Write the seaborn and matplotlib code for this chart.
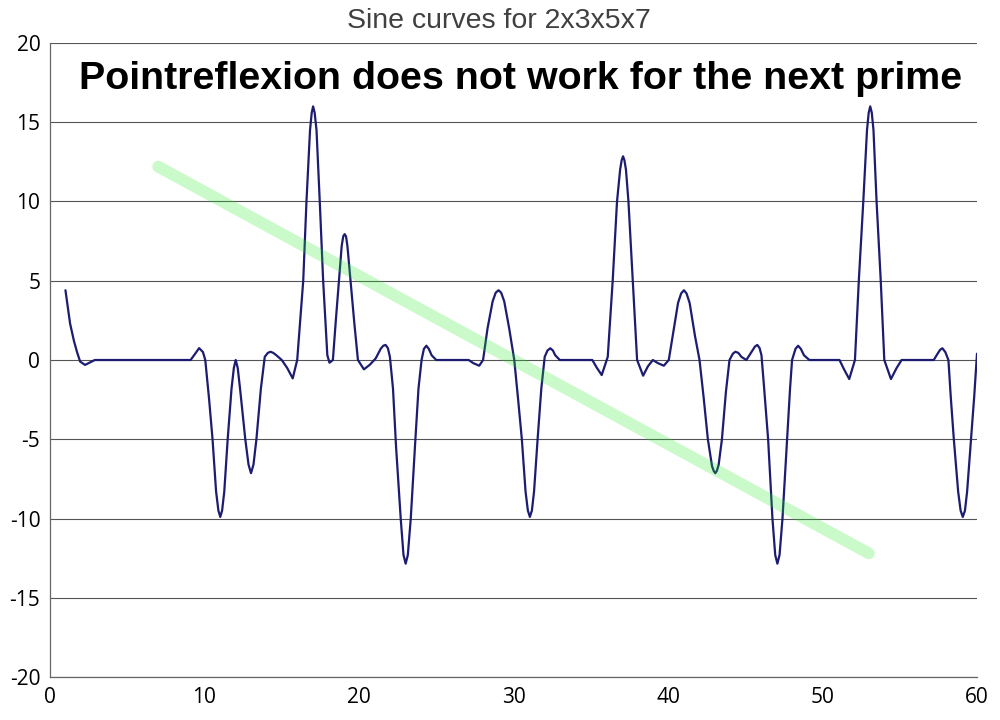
import matplotlib
matplotlib.use("Agg")
import matplotlib.pyplot as plt
import seaborn as sns
import pandas as pd

# curve (x, y)
curve_x = [
    1.0, 1.3, 1.55, 1.75, 1.95, 2.27, 2.6, 2.9,
    9.1, 9.4, 9.65, 9.9, 10.05, 10.3, 10.52, 10.75, 10.9, 11.02, 11.14, 11.28,
    11.5, 11.75, 11.9, 12.02, 12.15, 12.3, 12.64, 12.85, 13.01, 13.17, 13.36,
    13.65, 13.9, 14.1, 14.27, 14.45, 14.65,
    15.0, 15.35, 15.71, 16.0, 16.39, 16.6, 16.83, 16.94, 17.03, 17.13, 17.25,
    17.46, 17.68, 17.95, 18.09, 18.31, 18.5, 18.7, 18.88, 18.98, 19.07, 19.16,
    19.25, 19.45, 19.7, 19.93, 20.32, 20.7, 21.08, 21.4, 21.57, 21.72, 21.87,
    22.0, 22.2, 22.4, 22.7, 22.88, 23.02, 23.16, 23.35, 23.65, 23.85, 24.05,
    24.2, 24.36, 24.52, 24.7, 25.0,
    27.1, 27.4, 27.78, 28.03, 28.32, 28.65, 28.85, 29.03, 29.2, 29.4, 29.72,
    30.05, 30.3, 30.54, 30.78, 30.93, 31.06, 31.19, 31.33, 31.56, 31.8, 32.02,
    32.2, 32.38, 32.55, 32.7, 33.0,
    35.1, 35.4, 35.71, 36.1, 36.42, 36.7, 36.9, 37.0, 37.09, 37.18, 37.28,
    37.44, 37.72, 38.0, 38.39, 38.7, 39.02, 39.35, 39.73, 40.05, 40.35, 40.65,
    40.85, 41.03, 41.2, 41.4, 41.75, 42.04, 42.3, 42.58, 42.85, 42.96, 43.06,
    43.16, 43.28, 43.49, 43.75, 43.98, 44.2, 44.36, 44.55, 44.75, 45.07, 45.4,
    45.63, 45.78, 45.93, 46.05, 46.2, 46.48, 46.76, 46.94, 47.08, 47.22, 47.41,
    47.71, 47.9, 48.03, 48.25, 48.42, 48.6, 48.8, 49.15,
    51.1, 51.4, 51.73, 52.1, 52.35, 52.64, 52.88, 52.99, 53.09, 53.19, 53.3,
    53.5, 53.77, 54.0, 54.43, 54.8, 55.12,
    57.2, 57.45, 57.62, 57.76, 57.95, 58.15, 58.3, 58.5, 58.78, 58.94, 59.08,
    59.22, 59.36, 59.61, 59.82, 60.0,
]
curve_y = [
    4.4, 2.3, 1.2, 0.5, -0.1, -0.31, -0.15, 0.0,
    0.0, 0.4, 0.75, 0.5, 0.0, -2.5, -5.0, -8.3, -9.5, -9.9, -9.5, -8.3,
    -5.0, -1.8, -0.5, 0.0, -0.5, -1.8, -5.0, -6.6, -7.14, -6.6, -5.0,
    -1.8, 0.2, 0.45, 0.52, 0.45, 0.3,
    0.0, -0.5, -1.16, 0.0, 5.0, 10.0, 14.5, 15.6, 16.0, 15.6, 14.5,
    10.0, 5.0, 0.3, -0.17, 0.0, 2.5, 5.0, 7.2, 7.8, 7.94, 7.8,
    7.2, 5.0, 2.3, 0.0, -0.59, -0.3, 0.1, 0.7, 0.9, 0.95, 0.75,
    0.2, -1.8, -5.5, -10.0, -12.3, -12.85, -12.3, -10.0, -5.0, -1.8, 0.0,
    0.7, 0.9, 0.7, 0.3, 0.0,
    0.0, -0.2, -0.36, 0.0, 2.0, 3.7, 4.25, 4.4, 4.25, 3.7, 2.0,
    0.0, -2.5, -5.0, -8.3, -9.5, -9.9, -9.5, -8.3, -5.0, -1.8, 0.2,
    0.6, 0.74, 0.6, 0.3, 0.0,
    0.0, -0.5, -0.95, 0.2, 5.0, 10.0, 12.0, 12.6, 12.85, 12.6, 12.0,
    10.0, 5.0, 0.0, -0.99, -0.4, 0.0, -0.2, -0.36, 0.0, 1.8, 3.6,
    4.2, 4.4, 4.2, 3.6, 1.5, 0.0, -2.3, -5.0, -6.7, -7.0, -7.14,
    -7.0, -6.6, -5.0, -2.0, 0.0, 0.4, 0.52, 0.45, 0.2, 0.0, 0.5,
    0.85, 0.95, 0.75, 0.3, -1.5, -5.0, -10.0, -12.3, -12.85, -12.3, -10.0,
    -5.0, -1.8, 0.0, 0.7, 0.9, 0.7, 0.3, 0.0,
    0.0, -0.6, -1.2, 0.0, 5.0, 10.0, 14.5, 15.6, 16.0, 15.6, 14.5,
    10.0, 5.0, 0.0, -1.2, -0.5, 0.0,
    0.0, 0.4, 0.65, 0.74, 0.5, 0.0, -2.3, -5.0, -8.3, -9.5, -9.9,
    -9.5, -8.3, -5.0, -2.3, 0.4,
]

# the pale green reflexion line
ref_x = [7.0, 53.0]
ref_y = [12.2, -12.2]

x_ticks = [0, 10, 20, 30, 40, 50, 60]
y_ticks = [-20, -15, -10, -5, 0, 5, 10, 15, 20]

title = "Sine curves for 2x3x5x7"
note = "Pointreflexion does not work for the next prime"

sns.set_style("white")
plt.rcParams["font.family"] = ["Open Sans", "DejaVu Sans"]
plt.rcParams["axes.unicode_minus"] = False

df = pd.DataFrame({"x": curve_x, "y": curve_y})
ref = pd.DataFrame({"x": ref_x, "y": ref_y})

fig = plt.figure(figsize=(10, 7.2), dpi=100)
ax = fig.add_axes([0.05, 0.0597, 0.927, 0.8806])

sns.lineplot(data=df, x="x", y="y", sort=False, estimator=None,
             color="#1c1c72", linewidth=1.6, ax=ax, zorder=3)
sns.lineplot(data=ref, x="x", y="y", sort=False, estimator=None,
             color="#22ee22", alpha=0.24, linewidth=8.5,
             solid_capstyle="round", ax=ax, zorder=4)

ax.set_xlim(0, 60)
ax.set_ylim(-20, 20)
ax.set_xticks(x_ticks)
ax.set_yticks(y_ticks)
ax.set_xlabel("")
ax.set_ylabel("")
ax.yaxis.grid(True, color="#555555", linewidth=0.8)
ax.xaxis.grid(False)
ax.set_axisbelow(True)

for side in ["top", "right"]:
    ax.spines[side].set_visible(False)
for side in ["left", "bottom"]:
    ax.spines[side].set_color("#666666")
    ax.spines[side].set_linewidth(0.9)

ax.tick_params(axis="both", direction="out", length=5, width=0.8,
               color="#666666", labelsize=15, labelcolor="black", pad=2)

fig.text(0.499, 0.9607, title, ha="center", va="baseline", fontsize=20.5,
         color="#404040", family=["Liberation Sans", "DejaVu Sans"])
fig.text(0.5205, 0.876, note, ha="center", va="baseline", fontsize=28.4,
         fontweight="bold", color="black",
         family=["Liberation Sans", "DejaVu Sans"])

fig.savefig("out.png", dpi=100)
